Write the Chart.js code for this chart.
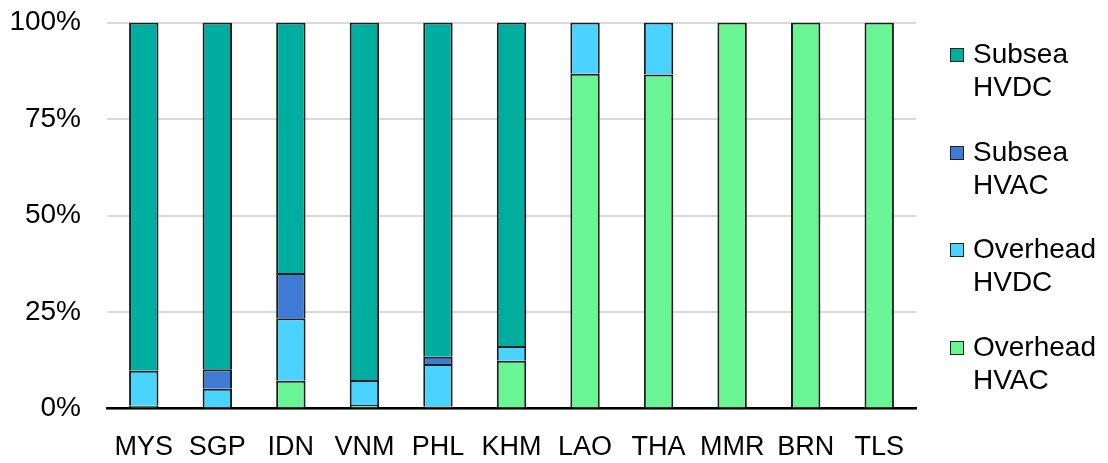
<!DOCTYPE html>
<html>
<head>
<meta charset="utf-8">
<script src="https://cdn.jsdelivr.net/npm/chart.js@4.4.0/dist/chart.umd.min.js"></script>
<style>
  html, body { margin: 0; padding: 0; background: #fff; }
  #wrap { position: relative; width: 1108px; height: 463px; }
  #legend { position: absolute; left: 0; top: 0; font-family: "Liberation Sans", Arial, sans-serif; font-size: 28px; line-height: 33px; color: #000; }
  .item { position: absolute; left: 950px; width: 160px; }
  .sw { position: absolute; left: 0; top: 11px; width: 12px; height: 12px; border: 1.5px solid #222; }
  .tx { position: absolute; left: 23px; top: 0; white-space: nowrap; }
</style>
</head>
<body>
<div id="wrap">
  <canvas id="c" width="1108" height="463"></canvas>
  <div id="legend"></div>
</div>
<script>
const categories = ["MYS", "SGP", "IDN", "VNM", "PHL", "KHM", "LAO", "THA", "MMR", "BRN", "TLS"];
const overheadHVAC = [0.7, 0, 7.2, 0.9, 0.5, 12.4, 86.7, 86.5, 100, 100, 100];
const overheadHVDC = [9.1, 5.1, 16.2, 6.5, 11.0, 3.8, 13.3, 13.5, 0, 0, 0];
const subseaHVAC = [0, 5.1, 11.7, 0, 1.9, 0, 0, 0, 0, 0, 0];
const subseaHVDC = [90.2, 89.8, 64.9, 92.6, 86.6, 83.8, 0, 0, 0, 0, 0];
const yTicks = [0, 25, 50, 75, 100];

const seriesNames = [["Overhead", "HVAC"], ["Overhead", "HVDC"], ["Subsea", "HVAC"], ["Subsea", "HVDC"]];
const seriesData = [overheadHVAC, overheadHVDC, subseaHVAC, subseaHVDC];
const seriesColors = ["#6AF595", "#4AD3FF", "#3F7AD4", "#00AEA0"];

const datasets = seriesData.map((d, i) => ({
  label: seriesNames[i].join(" "),
  data: d.map(v => v === 0 ? null : v),
  backgroundColor: seriesColors[i],
  borderColor: "#1e1e1e",
  borderWidth: { top: 2, left: 2, right: 2, bottom: 0 },
  borderSkipped: false,
  categoryPercentage: 1.0,
  barPercentage: 0.4
}));

new Chart(document.getElementById("c"), {
  type: "bar",
  data: { labels: categories, datasets },
  options: {
    responsive: false,
    animation: false,
    layout: { padding: { left: 9, right: 192, top: 22.5, bottom: 0 } },
    plugins: { legend: { display: false }, tooltip: { enabled: false } },
    scales: {
      x: {
        stacked: true,
        afterFit: axis => { axis.height = 54.5; axis.paddingLeft = 0; axis.paddingRight = 0; },
        grid: { display: false, drawTicks: false },
        border: { display: true, color: "#000", width: 2.5 },
        ticks: { color: "#000", font: { family: "Liberation Sans", size: 27 }, padding: 23, maxRotation: 0, autoSkip: false }
      },
      y: {
        stacked: true,
        min: 0, max: 100,
        afterFit: axis => { axis.width = 98; axis.paddingTop = 0; axis.paddingBottom = 0; },
        afterBuildTicks: axis => { axis.ticks = yTicks.map(v => ({ value: v })); },
        grid: { color: "#d9d9d9", lineWidth: 2, drawTicks: false },
        border: { display: false },
        ticks: { color: "#000", font: { family: "Liberation Sans", size: 28 }, padding: 26, callback: v => v + "%" }
      }
    }
  }
});

const legend = document.getElementById("legend");
const order = [3, 2, 1, 0];
order.forEach((si, k) => {
  const it = document.createElement("div");
  it.className = "item";
  it.style.top = (37 + k * 97.5) + "px";
  const sw = document.createElement("div");
  sw.className = "sw";
  sw.style.background = seriesColors[si];
  const tx = document.createElement("div");
  tx.className = "tx";
  tx.innerHTML = seriesNames[si].join("<br>");
  it.appendChild(sw); it.appendChild(tx);
  legend.appendChild(it);
});
</script>
</body>
</html>
